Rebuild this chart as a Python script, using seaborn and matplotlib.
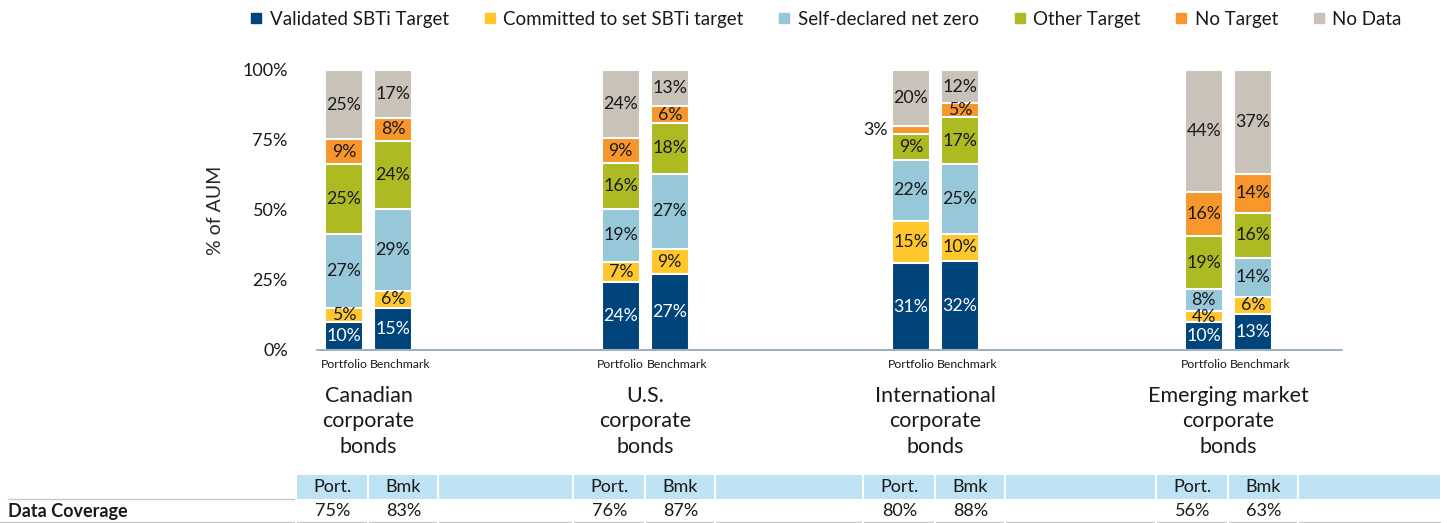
import numpy as np
import pandas as pd
import matplotlib.pyplot as plt
from matplotlib.lines import Line2D
from matplotlib.patches import Rectangle
import seaborn as sns

groups = ["Canadian\ncorporate\nbonds", "U.S.\ncorporate\nbonds",
          "International\ncorporate\nbonds", "Emerging market\ncorporate\nbonds"]
series = ["Portfolio", "Benchmark"]
categories = ["Validated SBTi Target", "Committed to set SBTi target",
              "Self-declared net zero", "Other Target", "No Target", "No Data"]

# one value per bar: Can P, Can B, US P, US B, Intl P, Intl B, EM P, EM B
validated     = [10, 15, 24, 27, 31, 32, 10, 13]
committed     = [5, 6, 7, 9, 15, 10, 4, 6]
self_declared = [27, 29, 19, 27, 22, 25, 8, 14]
other_target  = [25, 24, 16, 18, 9, 17, 19, 16]
no_target     = [9, 8, 9, 6, 3, 5, 16, 14]
no_data       = [25, 17, 24, 13, 20, 12, 44, 37]

coverage_port = [75, 76, 80, 56]
coverage_bmk  = [83, 87, 88, 63]

colors = ["#00447C", "#FFC72C", "#96C8D9", "#ADBA22", "#F7972B", "#C9C2B9"]

sns.set_theme(style="white")
plt.rcParams["font.family"] = ["Lato", "DejaVu Sans"]
plt.rcParams["text.color"] = "#1a1a1a"

# layout: where each group starts on the x axis (bar units)
group_offset = [0, 5.65, 11.57, 17.55]

rows = []
for cat, vals in zip(categories, [validated, committed, self_declared, other_target, no_target, no_data]):
    for i, v in enumerate(vals):
        g, s = divmod(i, 2)
        rows.append({"group": g, "series": series[s], "pos": group_offset[g] + s,
                     "category": cat, "value": v})
df = pd.DataFrame(rows)
df["share"] = df["value"] / df.groupby("pos")["value"].transform("sum") * 100
df["top"] = df.groupby("pos")["share"].cumsum()

W, H = 1453, 523
fig = plt.figure(figsize=(W / 100, H / 100), dpi=100)
ax = fig.add_axes([317 / W, 1 - 350 / H, 1025 / W, 280 / H])

# stacked bars: draw cumulative tops, tallest first
sns.barplot(data=df, x="pos", y="top", hue="category", hue_order=categories[::-1],
            palette=dict(zip(categories, colors)), dodge=False, native_scale=True,
            width=0.78, saturation=1, edgecolor="white", linewidth=1.5,
            errorbar=None, legend=False, ax=ax)

ax.set_xlim(-0.55, 20.37)
ax.set_ylim(0, 100)

for _, r in df.iterrows():
    yc = r["top"] - r["share"] / 2
    txt = f"{r['value']}%"
    col = "white" if r["category"] == categories[0] else "#1a1a1a"
    if r["value"] <= 3:
        ax.text(r["pos"] - 0.47, yc, txt, ha="right", va="center", fontsize=12.8, color=col)
    else:
        ax.text(r["pos"], yc, txt, ha="center", va="center", fontsize=12.8, color=col)

ax.set_xticks([])
for pos, ser in df[["pos", "series"]].drop_duplicates().itertuples(index=False):
    shift = 7 if ser == "Benchmark" else 0
    ax.annotate(ser, xy=(pos, 0), xycoords=("data", "axes fraction"),
                xytext=(shift, -15), textcoords="offset pixels",
                ha="center", va="center", fontsize=8.8)

ax.set_yticks([0, 25, 50, 75, 100])
ax.set_yticklabels([f"{t}%" for t in [0, 25, 50, 75, 100]], fontsize=13)
ax.tick_params(axis="y", length=0, pad=21, colors="#1a1a1a")
ax.set_xlabel("")
ax.set_ylabel("% of AUM", fontsize=14)
ax.yaxis.set_label_coords(-0.0907, 0.5)

for side in ["left", "right", "top"]:
    ax.spines[side].set_visible(False)
ax.spines["bottom"].set_color("#8FA0B3")
ax.spines["bottom"].set_linewidth(1.2)

for g, name in enumerate(groups):
    ax.annotate(name, xy=(group_offset[g] + 0.5, 0), xycoords=("data", "axes fraction"),
                xytext=(0, -36), textcoords="offset pixels", ha="center", va="top",
                fontsize=15.5, linespacing=1.33)

handles = [Line2D([], [], marker="s", linestyle="none", markersize=7,
                  markerfacecolor=c, markeredgecolor=c) for c in colors]
fig.legend(handles, categories, loc="upper center", bbox_to_anchor=(0.568, 1.012),
           ncol=6, frameon=False, fontsize=13.5, handletextpad=0.3,
           columnspacing=1.8, handlelength=0.8)

# data coverage table below the chart, in pixel coordinates
tax = fig.add_axes([0, 0, 1, 1])
tax.set_xlim(0, W)
tax.set_ylim(H, 0)
tax.axis("off")

band_top, band_bot, row_y = 475, 499, 511
centres = [ax.transData.transform((group_offset[g] + 0.5, 0))[0] for g in range(len(groups))]
left = centres[0] - 72
tax.add_patch(Rectangle((left, band_top), 1440 - left, band_bot - band_top,
                        color="#BEE3F5", lw=0))
tax.plot([8, left], [band_bot, band_bot], color="#C8C8C8", lw=1)
tax.plot([0, 1440], [522, 522], color="#C8C8C8", lw=1)
tax.text(8, row_y, "Data Coverage", ha="left", va="center", fontsize=13, fontweight="bold")

for c, p, b in zip(centres, coverage_port, coverage_bmk):
    for xs in [c - 72, c, c + 70]:
        tax.plot([xs, xs], [band_top, 523], color="white", lw=1.5)
    tax.text(c - 36, (band_top + band_bot) / 2, "Port.", ha="center", va="center", fontsize=13)
    tax.text(c + 35, (band_top + band_bot) / 2, "Bmk", ha="center", va="center", fontsize=13)
    tax.text(c - 36, row_y, f"{p}%", ha="center", va="center", fontsize=13)
    tax.text(c + 35, row_y, f"{b}%", ha="center", va="center", fontsize=13)

fig.savefig("out.png", dpi=100)
